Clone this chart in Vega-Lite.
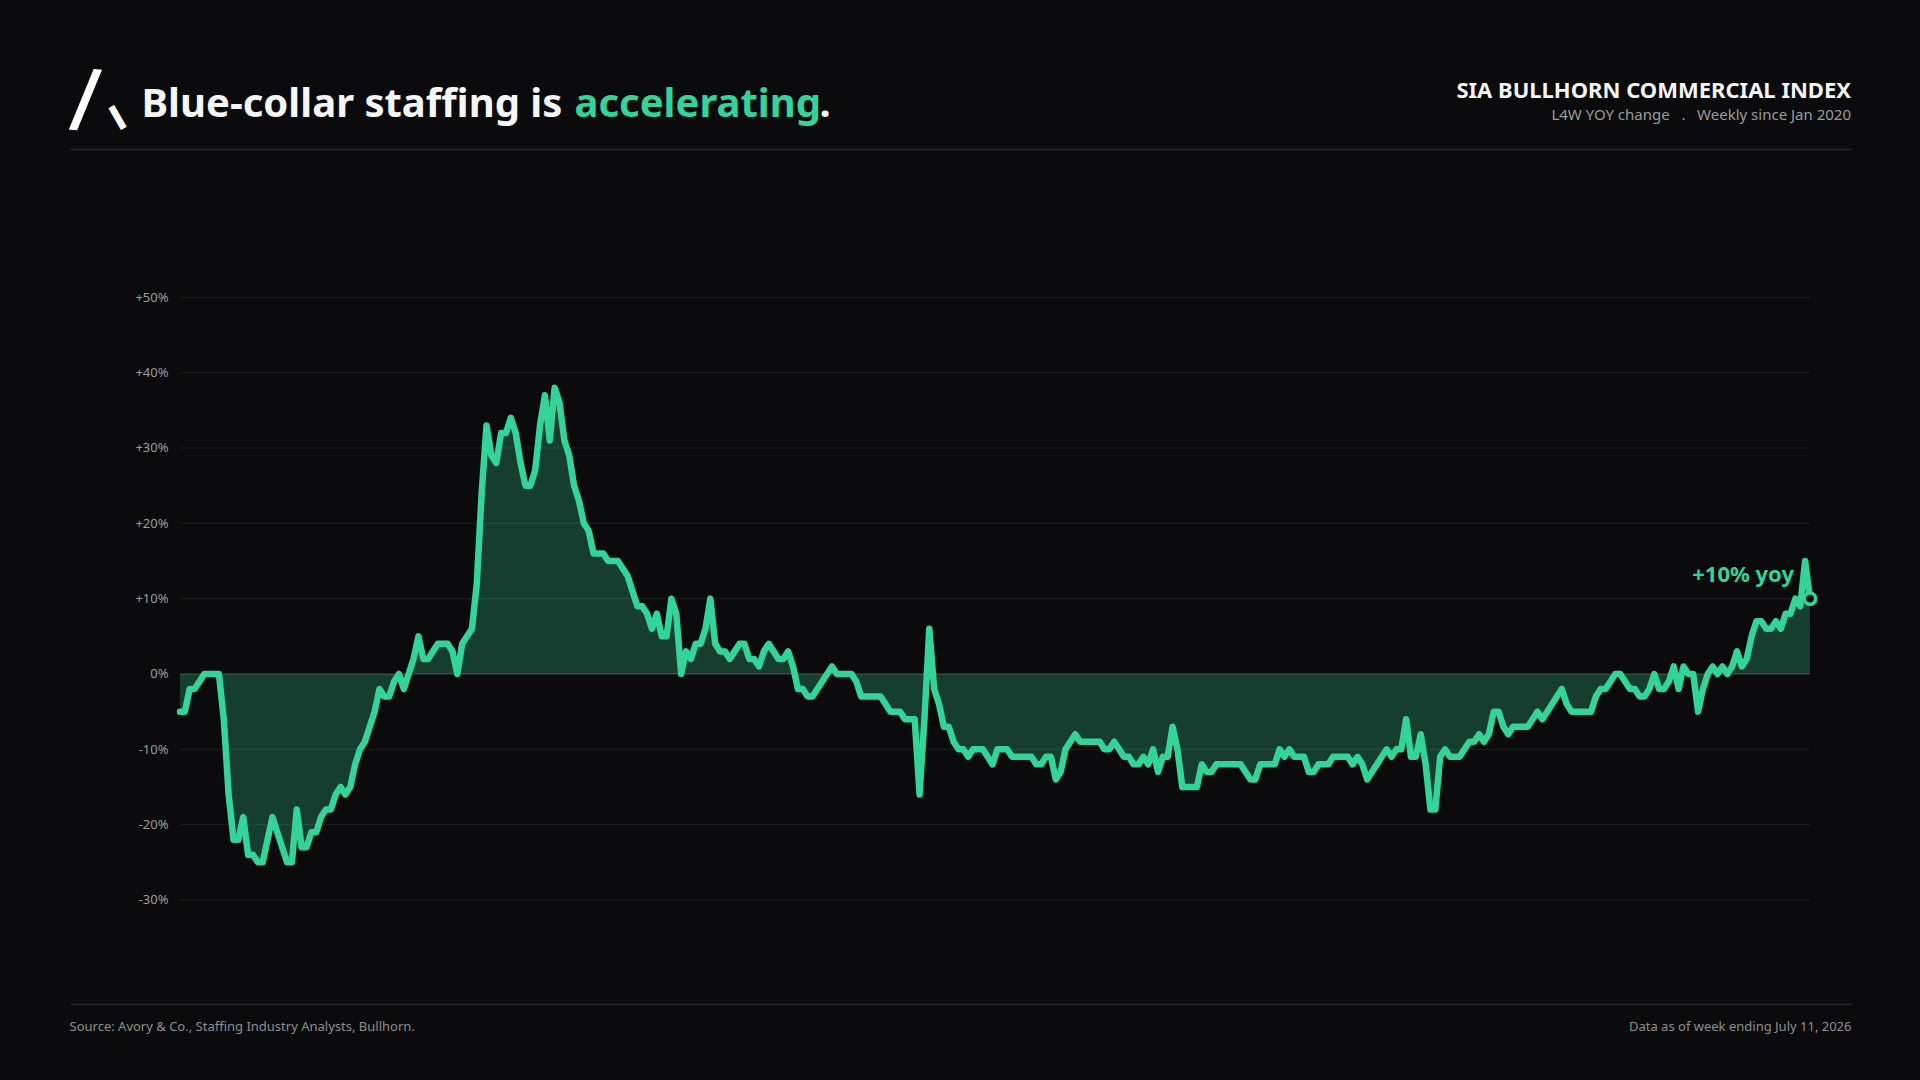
{
  "$schema": "https://vega.github.io/schema/vega-lite/v6.json",
  "autosize": {"type": "none"},
  "width": 1782,
  "height": 855,
  "padding": {"left": 69, "top": 149, "right": 69, "bottom": 76},
  "background": "#0b0b0e",
  "config": {"view": {"stroke": null}, "font": "Noto Sans"},
  "title": {
    "text": "SIA BULLHORN COMMERCIAL INDEX",
    "subtitle": "L4W YOY change \u00a0\u00a0.\u00a0\u00a0 Weekly since Jan 2020",
    "anchor": "end",
    "frame": "group",
    "orient": "top",
    "offset": 26,
    "dy": 88.5,
    "font": "Noto Sans",
    "fontSize": 22,
    "fontWeight": "bold",
    "color": "#f5f5f5",
    "subtitleFont": "Noto Sans",
    "subtitleFontSize": 15,
    "subtitleColor": "#9b9b9b",
    "subtitlePadding": 5
  },
  "datasets": {
    "grid": [
      {"tick": -30}, {"tick": -20}, {"tick": -10}, {"tick": 0}, {"tick": 10},
      {"tick": 20}, {"tick": 30}, {"tick": 40}, {"tick": 50}
    ],
    "yoy": [
      {"week":0,"yoy":-5},{"week":1,"yoy":-5},{"week":2,"yoy":-2},{"week":3,"yoy":-2},{"week":4,"yoy":-1},
      {"week":5,"yoy":0},{"week":6,"yoy":0},{"week":7,"yoy":0},{"week":8,"yoy":0},{"week":9,"yoy":-6},
      {"week":10,"yoy":-16},{"week":11,"yoy":-22},{"week":12,"yoy":-22},{"week":13,"yoy":-19},{"week":14,"yoy":-24},
      {"week":15,"yoy":-24},{"week":16,"yoy":-25},{"week":17,"yoy":-25},{"week":18,"yoy":-22},{"week":19,"yoy":-19},
      {"week":20,"yoy":-21},{"week":21,"yoy":-23},{"week":22,"yoy":-25},{"week":23,"yoy":-25},{"week":24,"yoy":-18},
      {"week":25,"yoy":-23},{"week":26,"yoy":-23},{"week":27,"yoy":-21},{"week":28,"yoy":-21},{"week":29,"yoy":-19},
      {"week":30,"yoy":-18},{"week":31,"yoy":-18},{"week":32,"yoy":-16},{"week":33,"yoy":-15},{"week":34,"yoy":-16},
      {"week":35,"yoy":-15},{"week":36,"yoy":-12},{"week":37,"yoy":-10},{"week":38,"yoy":-9},{"week":39,"yoy":-7},
      {"week":40,"yoy":-5},{"week":41,"yoy":-2},{"week":42,"yoy":-3},{"week":43,"yoy":-3},{"week":44,"yoy":-1},
      {"week":45,"yoy":0},{"week":46,"yoy":-2},{"week":47,"yoy":0},{"week":48,"yoy":2},{"week":49,"yoy":5},
      {"week":50,"yoy":2},{"week":51,"yoy":2},{"week":52,"yoy":3},{"week":53,"yoy":4},{"week":54,"yoy":4},
      {"week":55,"yoy":4},{"week":56,"yoy":3},{"week":57,"yoy":0},{"week":58,"yoy":4},{"week":59,"yoy":5},
      {"week":60,"yoy":6},{"week":61,"yoy":12},{"week":62,"yoy":24},{"week":63,"yoy":33},{"week":64,"yoy":29},
      {"week":65,"yoy":28},{"week":66,"yoy":32},{"week":67,"yoy":32},{"week":68,"yoy":34},{"week":69,"yoy":32},
      {"week":70,"yoy":28},{"week":71,"yoy":25},{"week":72,"yoy":25},{"week":73,"yoy":27},{"week":74,"yoy":33},
      {"week":75,"yoy":37},{"week":76,"yoy":31},{"week":77,"yoy":38},{"week":78,"yoy":36},{"week":79,"yoy":31},
      {"week":80,"yoy":29},{"week":81,"yoy":25},{"week":82,"yoy":23},{"week":83,"yoy":20},{"week":84,"yoy":19},
      {"week":85,"yoy":16},{"week":86,"yoy":16},{"week":87,"yoy":16},{"week":88,"yoy":15},{"week":89,"yoy":15},
      {"week":90,"yoy":15},{"week":91,"yoy":14},{"week":92,"yoy":13},{"week":93,"yoy":11},{"week":94,"yoy":9},
      {"week":95,"yoy":9},{"week":96,"yoy":8},{"week":97,"yoy":6},{"week":98,"yoy":8},{"week":99,"yoy":5},
      {"week":100,"yoy":5},{"week":101,"yoy":10},{"week":102,"yoy":8},{"week":103,"yoy":0},{"week":104,"yoy":3},
      {"week":105,"yoy":2},{"week":106,"yoy":4},{"week":107,"yoy":4},{"week":108,"yoy":6},{"week":109,"yoy":10},
      {"week":110,"yoy":4},{"week":111,"yoy":3},{"week":112,"yoy":3},{"week":113,"yoy":2},{"week":114,"yoy":3},
      {"week":115,"yoy":4},{"week":116,"yoy":4},{"week":117,"yoy":2},{"week":118,"yoy":2},{"week":119,"yoy":1},
      {"week":120,"yoy":3},{"week":121,"yoy":4},{"week":122,"yoy":3},{"week":123,"yoy":2},{"week":124,"yoy":2},
      {"week":125,"yoy":3},{"week":126,"yoy":1},{"week":127,"yoy":-2},{"week":128,"yoy":-2},{"week":129,"yoy":-3},
      {"week":130,"yoy":-3},{"week":131,"yoy":-2},{"week":132,"yoy":-1},{"week":133,"yoy":0},{"week":134,"yoy":1},
      {"week":135,"yoy":0},{"week":136,"yoy":0},{"week":137,"yoy":0},{"week":138,"yoy":0},{"week":139,"yoy":-1},
      {"week":140,"yoy":-3},{"week":141,"yoy":-3},{"week":142,"yoy":-3},{"week":143,"yoy":-3},{"week":144,"yoy":-3},
      {"week":145,"yoy":-4},{"week":146,"yoy":-5},{"week":147,"yoy":-5},{"week":148,"yoy":-5},{"week":149,"yoy":-6},
      {"week":150,"yoy":-6},{"week":151,"yoy":-6},{"week":152,"yoy":-16},{"week":153,"yoy":-6},{"week":154,"yoy":6},
      {"week":155,"yoy":-2},{"week":156,"yoy":-4},{"week":157,"yoy":-7},{"week":158,"yoy":-7},{"week":159,"yoy":-9},
      {"week":160,"yoy":-10},{"week":161,"yoy":-10},{"week":162,"yoy":-11},{"week":163,"yoy":-10},{"week":164,"yoy":-10},
      {"week":165,"yoy":-10},{"week":166,"yoy":-11},{"week":167,"yoy":-12},{"week":168,"yoy":-10},{"week":169,"yoy":-10},
      {"week":170,"yoy":-10},{"week":171,"yoy":-11},{"week":172,"yoy":-11},{"week":173,"yoy":-11},{"week":174,"yoy":-11},
      {"week":175,"yoy":-11},{"week":176,"yoy":-12},{"week":177,"yoy":-12},{"week":178,"yoy":-11},{"week":179,"yoy":-11},
      {"week":180,"yoy":-14},{"week":181,"yoy":-13},{"week":182,"yoy":-10},{"week":183,"yoy":-9},{"week":184,"yoy":-8},
      {"week":185,"yoy":-9},{"week":186,"yoy":-9},{"week":187,"yoy":-9},{"week":188,"yoy":-9},{"week":189,"yoy":-9},
      {"week":190,"yoy":-10},{"week":191,"yoy":-10},{"week":192,"yoy":-9},{"week":193,"yoy":-10},{"week":194,"yoy":-11},
      {"week":195,"yoy":-11},{"week":196,"yoy":-12},{"week":197,"yoy":-12},{"week":198,"yoy":-11},{"week":199,"yoy":-12},
      {"week":200,"yoy":-10},{"week":201,"yoy":-13},{"week":202,"yoy":-11},{"week":203,"yoy":-11},{"week":204,"yoy":-7},
      {"week":205,"yoy":-10},{"week":206,"yoy":-15},{"week":207,"yoy":-15},{"week":208,"yoy":-15},{"week":209,"yoy":-15},
      {"week":210,"yoy":-12},{"week":211,"yoy":-13},{"week":212,"yoy":-13},{"week":213,"yoy":-12},{"week":214,"yoy":-12},
      {"week":215,"yoy":-12},{"week":216,"yoy":-12},{"week":217,"yoy":-12},{"week":218,"yoy":-12},{"week":219,"yoy":-13},
      {"week":220,"yoy":-14},{"week":221,"yoy":-14},{"week":222,"yoy":-12},{"week":223,"yoy":-12},{"week":224,"yoy":-12},
      {"week":225,"yoy":-12},{"week":226,"yoy":-10},{"week":227,"yoy":-11},{"week":228,"yoy":-10},{"week":229,"yoy":-11},
      {"week":230,"yoy":-11},{"week":231,"yoy":-11},{"week":232,"yoy":-13},{"week":233,"yoy":-13},{"week":234,"yoy":-12},
      {"week":235,"yoy":-12},{"week":236,"yoy":-12},{"week":237,"yoy":-11},{"week":238,"yoy":-11},{"week":239,"yoy":-11},
      {"week":240,"yoy":-11},{"week":241,"yoy":-12},{"week":242,"yoy":-11},{"week":243,"yoy":-12},{"week":244,"yoy":-14},
      {"week":245,"yoy":-13},{"week":246,"yoy":-12},{"week":247,"yoy":-11},{"week":248,"yoy":-10},{"week":249,"yoy":-11},
      {"week":250,"yoy":-10},{"week":251,"yoy":-10},{"week":252,"yoy":-6},{"week":253,"yoy":-11},{"week":254,"yoy":-11},
      {"week":255,"yoy":-8},{"week":256,"yoy":-12},{"week":257,"yoy":-18},{"week":258,"yoy":-18},{"week":259,"yoy":-11},
      {"week":260,"yoy":-10},{"week":261,"yoy":-11},{"week":262,"yoy":-11},{"week":263,"yoy":-11},{"week":264,"yoy":-10},
      {"week":265,"yoy":-9},{"week":266,"yoy":-9},{"week":267,"yoy":-8},{"week":268,"yoy":-9},{"week":269,"yoy":-8},
      {"week":270,"yoy":-5},{"week":271,"yoy":-5},{"week":272,"yoy":-7},{"week":273,"yoy":-8},{"week":274,"yoy":-7},
      {"week":275,"yoy":-7},{"week":276,"yoy":-7},{"week":277,"yoy":-7},{"week":278,"yoy":-6},{"week":279,"yoy":-5},
      {"week":280,"yoy":-6},{"week":281,"yoy":-5},{"week":282,"yoy":-4},{"week":283,"yoy":-3},{"week":284,"yoy":-2},
      {"week":285,"yoy":-4},{"week":286,"yoy":-5},{"week":287,"yoy":-5},{"week":288,"yoy":-5},{"week":289,"yoy":-5},
      {"week":290,"yoy":-5},{"week":291,"yoy":-3},{"week":292,"yoy":-2},{"week":293,"yoy":-2},{"week":294,"yoy":-1},
      {"week":295,"yoy":0},{"week":296,"yoy":0},{"week":297,"yoy":-1},{"week":298,"yoy":-2},{"week":299,"yoy":-2},
      {"week":300,"yoy":-3},{"week":301,"yoy":-3},{"week":302,"yoy":-2},{"week":303,"yoy":0},{"week":304,"yoy":-2},
      {"week":305,"yoy":-2},{"week":306,"yoy":-1},{"week":307,"yoy":1},{"week":308,"yoy":-2},{"week":309,"yoy":1},
      {"week":310,"yoy":0},{"week":311,"yoy":0},{"week":312,"yoy":-5},{"week":313,"yoy":-2},{"week":314,"yoy":0},
      {"week":315,"yoy":1},{"week":316,"yoy":0},{"week":317,"yoy":1},{"week":318,"yoy":0},{"week":319,"yoy":1},
      {"week":320,"yoy":3},{"week":321,"yoy":1},{"week":322,"yoy":2},{"week":323,"yoy":5},{"week":324,"yoy":7},
      {"week":325,"yoy":7},{"week":326,"yoy":6},{"week":327,"yoy":6},{"week":328,"yoy":7},{"week":329,"yoy":6},
      {"week":330,"yoy":8},{"week":331,"yoy":8},{"week":332,"yoy":10},{"week":333,"yoy":9},{"week":334,"yoy":15},
      {"week":335,"yoy":10}
    ]
  },
  "layer": [
    {
      "data": {"name": "yoy"},
      "mark": {"type": "area", "color": "#34d399", "opacity": 0.25},
      "encoding": {
        "x": {
          "field": "week", "type": "quantitative",
          "scale": {"domain": [-22.81, 343.43], "nice": false, "zero": false},
          "axis": {
            "orient": "top", "labels": false, "ticks": false, "grid": false,
            "domain": true, "domainColor": "#242428", "domainWidth": 1.5,
            "title": "Blue-collar staffing is",
            "titleX": 72, "titleY": -33, "titleAngle": 0,
            "titleAlign": "left", "titleBaseline": "alphabetic",
            "titleFont": "Noto Sans", "titleFontSize": 40, "titleFontWeight": "bold",
            "titleColor": "#f5f5f5"
          }
        },
        "y": {
          "field": "yoy", "type": "quantitative",
          "scale": {"domain": [-43.81, 69.69], "nice": false, "zero": false},
          "axis": {
            "orient": "right", "labels": false, "ticks": false, "grid": false, "domain": false,
            "title": "accelerating",
            "titleX": -1277, "titleY": -33, "titleAngle": 0,
            "titleAlign": "left", "titleBaseline": "alphabetic",
            "titleFont": "Noto Sans", "titleFontSize": 40, "titleFontWeight": "bold",
            "titleColor": "#34d399"
          }
        },
        "y2": {"datum": 0}
      }
    },
    {
      "data": {"name": "grid"},
      "mark": {"type": "rule", "color": "#ffffff", "strokeWidth": 1},
      "encoding": {
        "x": {
          "datum": 0, "type": "quantitative",
          "scale": {"domain": [-22.81, 343.43], "nice": false, "zero": false},
          "axis": {
            "orient": "bottom", "labels": false, "ticks": false, "grid": false,
            "domain": true, "domainColor": "#242428", "domainWidth": 1.5,
            "title": "Source: Avory & Co., Staffing Industry Analysts, Bullhorn.",
            "titleX": 0, "titleY": 26, "titleAngle": 0,
            "titleAlign": "left", "titleBaseline": "alphabetic",
            "titleFont": "Noto Sans", "titleFontSize": 13, "titleFontWeight": "normal",
            "titleColor": "#8e8e8e"
          }
        },
        "x2": {"datum": 335},
        "y": {
          "field": "tick", "type": "quantitative",
          "scale": {"domain": [-43.81, 69.69], "nice": false, "zero": false},
          "axis": {
            "orient": "left", "offset": -111,
            "values": [-30, -20, -10, 0, 10, 20, 30, 40, 50],
            "labelExpr": "(datum.value > 0 ? '+' : '') + datum.value + '%'",
            "labelFont": "Noto Sans", "labelFontSize": 13, "labelColor": "#9c9c9c",
            "labelPadding": 12, "ticks": false, "tickSize": 0, "grid": false, "domain": false,
            "title": "Data as of week ending July 11, 2026",
            "titleX": 1671, "titleY": 881, "titleAngle": 0,
            "titleAlign": "right", "titleBaseline": "alphabetic",
            "titleFont": "Noto Sans", "titleFontSize": 13, "titleFontWeight": "normal",
            "titleColor": "#8e8e8e"
          }
        },
        "opacity": {
          "condition": {"test": "datum.tick === 0", "value": 0.24},
          "value": 0.09
        }
      }
    },
    {
      "data": {"name": "yoy"},
      "mark": {"type": "line", "color": "#34d399", "strokeWidth": 6.5, "strokeJoin": "round", "strokeCap": "round"},
      "encoding": {
        "x": {
          "field": "week", "type": "quantitative",
          "scale": {"domain": [-22.81, 343.43], "nice": false, "zero": false},
          "axis": {
            "orient": "top", "labels": false, "ticks": false, "grid": false, "domain": false,
            "title": ".",
            "titleX": 750, "titleY": -33, "titleAngle": 0,
            "titleAlign": "left", "titleBaseline": "alphabetic",
            "titleFont": "Noto Sans", "titleFontSize": 40, "titleFontWeight": "bold",
            "titleColor": "#f5f5f5"
          }
        },
        "y": {
          "field": "yoy", "type": "quantitative",
          "scale": {"domain": [-43.81, 69.69], "nice": false, "zero": false},
          "axis": {
            "orient": "left", "labels": false, "ticks": false, "grid": false, "domain": false,
            "title": "/",
            "titleX": 0, "titleY": -27, "titleAngle": 5,
            "titleAlign": "left", "titleBaseline": "alphabetic",
            "titleFont": "DejaVu Sans", "titleFontSize": 76, "titleFontWeight": "bold",
            "titleColor": "#ffffff"
          }
        }
      }
    },
    {
      "data": {"name": "yoy"},
      "transform": [{"filter": "datum.week === 335"}],
      "mark": {"type": "point", "shape": "circle", "size": 130, "filled": true, "fill": "#0b0b0e", "stroke": "#34d399", "strokeWidth": 3.5, "opacity": 1},
      "encoding": {
        "x": {
          "field": "week", "type": "quantitative",
          "scale": {"domain": [-22.81, 343.43], "nice": false, "zero": false},
          "axis": null
        },
        "y": {
          "field": "yoy", "type": "quantitative",
          "scale": {"domain": [-43.81, 69.69], "nice": false, "zero": false},
          "axis": {
            "orient": "right", "labels": false, "ticks": false, "grid": false, "domain": false,
            "title": "\u258c",
            "titleX": -1730.5, "titleY": -32.5, "titleAngle": 330,
            "titleAlign": "center", "titleBaseline": "middle",
            "titleFont": "DejaVu Sans Mono", "titleFontSize": 21, "titleFontWeight": "normal",
            "titleColor": "#ffffff"
          }
        }
      }
    },
    {
      "data": {"name": "yoy"},
      "transform": [{"filter": "datum.week === 335"}],
      "mark": {"type": "text", "align": "right", "baseline": "alphabetic", "dx": -16, "dy": -17, "font": "Noto Sans", "fontSize": 22, "fontWeight": "bold", "color": "#34d399"},
      "encoding": {
        "x": {
          "field": "week", "type": "quantitative",
          "scale": {"domain": [-22.81, 343.43], "nice": false, "zero": false},
          "axis": null
        },
        "y": {
          "field": "yoy", "type": "quantitative",
          "scale": {"domain": [-43.81, 69.69], "nice": false, "zero": false},
          "axis": null
        },
        "text": {"value": "+10% yoy"}
      }
    }
  ],
  "resolve": {"scale": {"x": "independent", "y": "independent"}}
}
